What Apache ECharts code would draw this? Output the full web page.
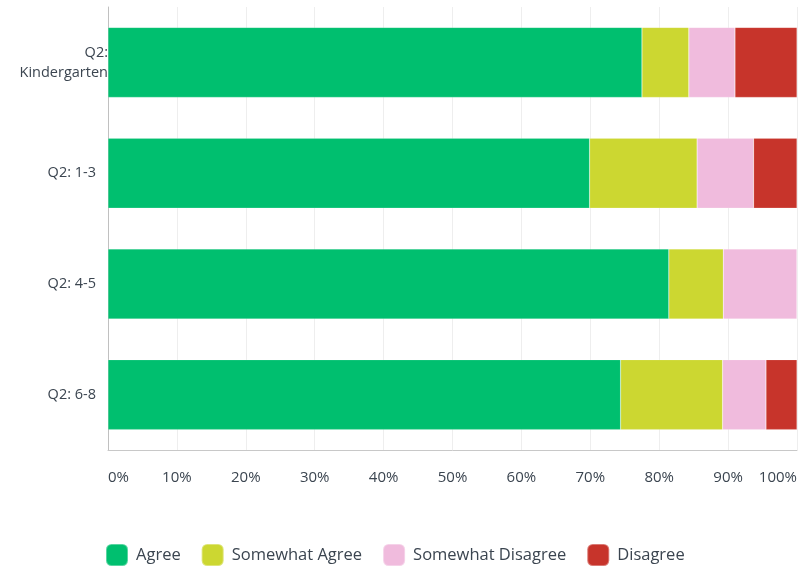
<!DOCTYPE html>
<html><head><meta charset="utf-8">
<script src="https://cdn.jsdelivr.net/npm/echarts@6/dist/echarts.min.js"></script>
<style>html,body{margin:0;padding:0;background:#fff}#c{width:801px;height:571px}</style>
</head><body><div id="c"></div>
<script>
var categories = ['Q2: Kindergarten', 'Q2: 1-3', 'Q2: 4-5', 'Q2: 6-8'];
var seriesNames = ['Agree', 'Somewhat Agree', 'Somewhat Disagree', 'Disagree'];
var agree = [77.5, 69.9, 81.4, 74.4];
var somewhatAgree = [6.8, 15.6, 7.9, 14.8];
var somewhatDisagree = [6.7, 8.2, 10.7, 6.3];
var disagree = [9.0, 6.3, 0, 4.5];
var xTicks = [0, 10, 20, 30, 40, 50, 60, 70, 80, 90, 100];
var colors = ['#00bf6f', '#ccd731', '#f0bbdd', '#c7342b'];

var font = 'Open Sans';
var txt = '#3b4550';
var values = [agree, somewhatAgree, somewhatDisagree, disagree];
var chart = echarts.init(document.getElementById('c'));
chart.setOption({
  animation: false,
  color: colors,
  textStyle: {fontFamily: font},
  grid: {left: 108, right: 4, top: 7, bottom: 121},
  legend: {
    left: 100, top: 538, itemWidth: 22, itemHeight: 22, itemGap: 20,
    icon: 'roundRect',
    textStyle: {color: txt, fontSize: 16.5, fontFamily: font, padding: [0, 0, 0, 3]},
    data: seriesNames
  },
  xAxis: {
    type: 'value', min: xTicks[0], max: xTicks[xTicks.length - 1], interval: 10,
    axisLine: {show: true, lineStyle: {color: '#c8c8c8'}},
    axisTick: {show: false},
    splitLine: {lineStyle: {color: '#eeeeee'}},
    axisLabel: {color: txt, fontSize: 15, margin: 20, formatter: '{value}%',
      alignMinLabel: 'left', alignMaxLabel: 'right'}
  },
  yAxis: [{
    type: 'category', data: categories, inverse: true,
    axisLine: {lineStyle: {color: '#c0c0c0'}},
    axisTick: {show: false},
    axisLabel: {color: txt, fontSize: 14.5, margin: 12,
      formatter: function (v) { return v === categories[0] ? '' : v; }}
  }, {
    type: 'category', data: categories, inverse: true, position: 'left', offset: -12,
    axisLine: {show: false}, axisTick: {show: false},
    axisLabel: {color: txt, fontSize: 14.5, margin: 12, lineHeight: 20,
      formatter: function (v) { return v === categories[0] ? v.replace(' ', '\n') : ''; }}
  }],
  series: values.map(function (d, i) {
    return {
      name: seriesNames[i], type: 'bar', stack: 'total', data: d,
      barWidth: 70, z: 5,
      itemStyle: {borderColor: 'rgba(255,255,255,0.35)', borderWidth: 0.5}
    };
  })
});
</script></body></html>
